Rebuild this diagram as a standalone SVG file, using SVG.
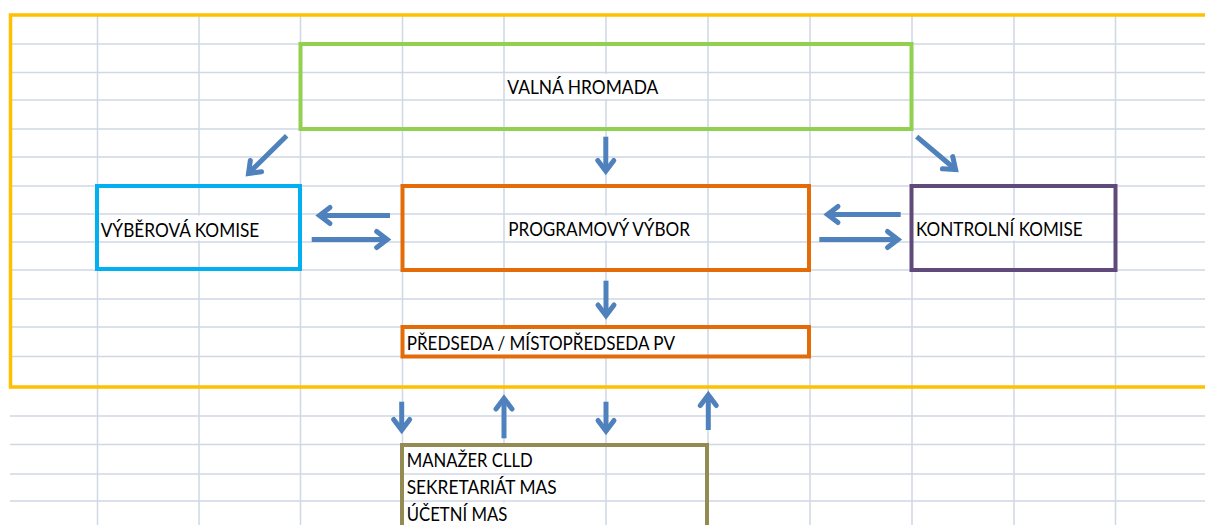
<svg xmlns="http://www.w3.org/2000/svg" width="1205" height="525" viewBox="0 0 1205 525">
  <defs>
    <style>
      .grid { stroke: #D0D7E5; stroke-width: 1.5; fill: none; }
      .gap { fill: #FFFFFF; }
      .box { fill: none; stroke-width: 4; }
      .lbl { font-family: Lato, "Open Sans", "Liberation Sans", sans-serif; font-size: 18.5px; fill: #000000; }
      .arr { stroke: #4F81BD; stroke-width: 5; fill: none; marker-end: url(#head); }
    </style>
    <marker id="head" markerUnits="userSpaceOnUse" viewBox="-16 -13 22 26" markerWidth="22" markerHeight="26" refX="0" refY="0" orient="auto">
      <path d="M-10.5,-8 L0,0 L-10.5,8" fill="none" stroke="#4F81BD" stroke-width="5" stroke-linecap="round" stroke-linejoin="miter"/>
    </marker>
  </defs>
  <rect width="1205" height="525" fill="#FFFFFF"/>

  <g id="grid">
    <path class="grid" d="M10,44 H1205 M10,72.5 H1205 M10,100 H1205 M10,129 H1205 M10,157 H1205 M10,186 H1205 M10,214 H1205 M10,242 H1205 M10,270 H1205 M10,299 H1205 M10,327 H1205 M10,356.5 H1205 M10,416 H1205 M10,444.5 H1205 M10,474 H1205 M10,501 H1205"/>
    <path class="grid" d="M97.5,15 V525 M199,15 V525 M300.5,15 V525 M402.5,15 V525 M504,15 V525 M606,15 V525 M708,15 V525 M810,15 V525 M912,15 V525 M1014,15 V525 M1115.5,15 V525"/>
    <rect class="gap" x="604" y="74" width="4" height="25"/>
    <rect class="gap" x="197" y="215.5" width="4" height="25"/>
    <rect class="gap" x="604" y="215.5" width="4" height="25"/>
    <rect class="gap" x="1012" y="215.5" width="4" height="25"/>
    <rect class="gap" x="502" y="328.5" width="4" height="26.5"/>
    <rect class="gap" x="604" y="328.5" width="4" height="26.5"/>
    <rect class="gap" x="502" y="446" width="4" height="27"/>
    <rect class="gap" x="502" y="475.5" width="4" height="24.5"/>
    <rect class="gap" x="502" y="502.5" width="4" height="25"/>
  </g>

  <g id="frame">
    <path d="M1210,15 H10.5 V387 H1210" fill="none" stroke="#FFC000" stroke-width="3.5"/>
  </g>

  <g id="valna-hromada">
    <rect class="box" x="300.5" y="44" width="611" height="85" stroke="#92D050"/>
    <text class="lbl" x="507.3" y="94.3" textLength="151" lengthAdjust="spacingAndGlyphs">VALNÁ HROMADA</text>
  </g>

  <g id="vyberova-komise">
    <rect class="box" x="97" y="186" width="203" height="83" stroke="#00B0F0"/>
    <text class="lbl" x="100.7" y="236.5" textLength="158.6" lengthAdjust="spacingAndGlyphs">VÝBĚROVÁ KOMISE</text>
  </g>

  <g id="programovy-vybor">
    <rect class="box" x="402.5" y="186" width="406.5" height="84" stroke="#E36C09"/>
    <text class="lbl" x="508.3" y="236" textLength="181.7" lengthAdjust="spacingAndGlyphs">PROGRAMOVÝ VÝBOR</text>
  </g>

  <g id="kontrolni-komise">
    <rect class="box" x="911.5" y="186" width="204" height="84" stroke="#604A7B"/>
    <text class="lbl" x="916" y="236" textLength="166.7" lengthAdjust="spacingAndGlyphs">KONTROLNÍ KOMISE</text>
  </g>

  <g id="predseda">
    <rect class="box" x="402.5" y="327" width="406.5" height="29.5" stroke="#E36C09"/>
    <text class="lbl" x="406.7" y="350" textLength="268.3" lengthAdjust="spacingAndGlyphs">PŘEDSEDA / MÍSTOPŘEDSEDA PV</text>
  </g>

  <g id="sekretariat">
    <rect class="box" x="402" y="445" width="305" height="200" stroke="#948A54"/>
    <text class="lbl" x="406.7" y="467.3" textLength="126" lengthAdjust="spacingAndGlyphs">MANAŽER CLLD</text>
    <text class="lbl" x="406.7" y="494" textLength="150" lengthAdjust="spacingAndGlyphs">SEKRETARIÁT MAS</text>
    <text class="lbl" x="406.7" y="520.7" textLength="100.6" lengthAdjust="spacingAndGlyphs">ÚČETNÍ MAS</text>
  </g>

  <g id="connectors">
    <path class="arr" d="M286.7,135.7 L248.5,173.5"/>
    <path class="arr" d="M605.8,136.7 L605.8,171"/>
    <path class="arr" d="M916.7,136.7 L955.6,169.5"/>
    <path class="arr" d="M390,215.5 L319.5,215.5"/>
    <path class="arr" d="M311.7,239.5 L387.2,239.5"/>
    <path class="arr" d="M900.7,214.5 L827.5,214.5"/>
    <path class="arr" d="M819.3,239.5 L898,239.5"/>
    <path class="arr" d="M606,280.7 L606,315.5"/>
    <path class="arr" d="M401.7,401.7 L401.7,430"/>
    <path class="arr" d="M504,438.3 L504,398.5"/>
    <path class="arr" d="M606,401.7 L606,431"/>
    <path class="arr" d="M708.3,430 L708.3,395"/>
  </g>
</svg>
